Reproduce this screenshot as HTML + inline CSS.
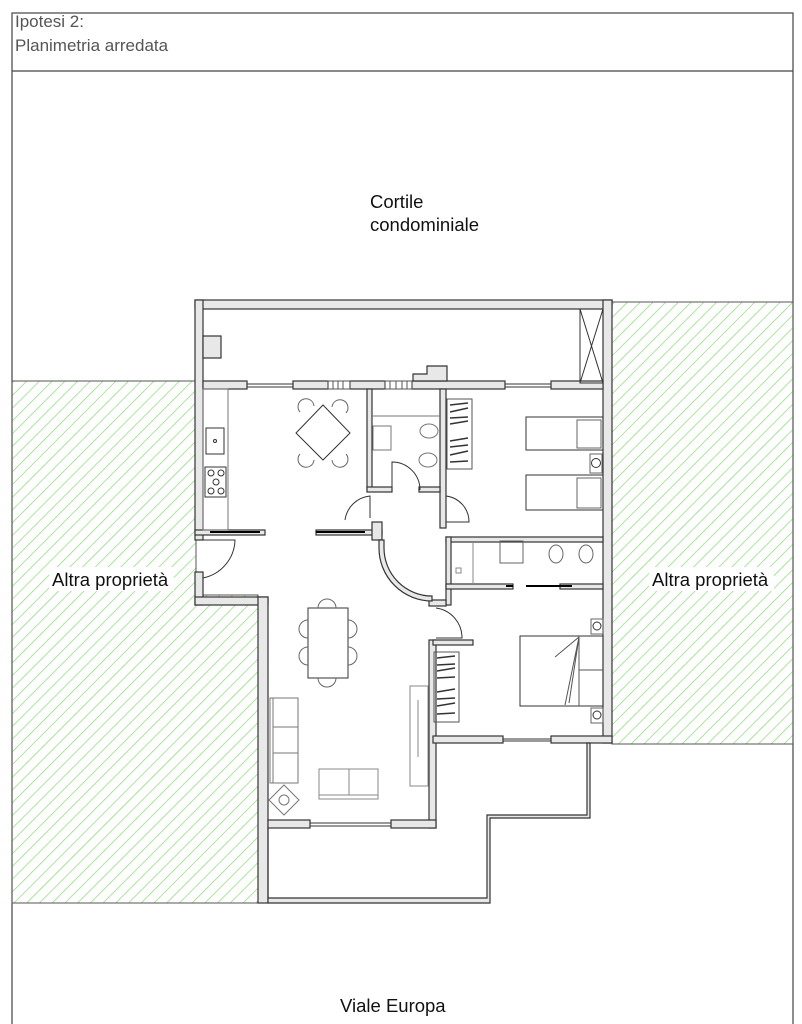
<!DOCTYPE html>
<html><head><meta charset="utf-8"><style>
html,body{margin:0;padding:0;background:#fff;width:802px;height:1024px;overflow:hidden}
svg{display:block}
text{font-family:"Liberation Sans",sans-serif}
</style></head><body>
<svg width="802" height="1024" viewBox="0 0 802 1024" xmlns="http://www.w3.org/2000/svg">
<defs>
<pattern id="h" patternUnits="userSpaceOnUse" width="9" height="9" patternTransform="rotate(45)">
<line x1="0" y1="0" x2="0" y2="9" stroke="#7ed86a" stroke-width="1.3"/>
</pattern>
</defs>
<rect x="12" y="13" width="781" height="1020" fill="none" stroke="#444" stroke-width="1.2"/>
<line x1="12" y1="71" x2="793" y2="71" stroke="#444" stroke-width="1.2"/>
<text x="15" y="27" font-size="17" fill="#555">Ipotesi 2:</text>
<text x="15" y="51" font-size="17" fill="#555">Planimetria arredata</text>
<text x="370" y="208" font-size="18.5" fill="#111">Cortile</text>
<text x="370" y="231" font-size="18.5" fill="#111">condominiale</text>
<text x="340" y="1012" font-size="18.5" fill="#111">Viale Europa</text>

<path d="M12 381 H196 V595 H258 V903 H12 Z" fill="url(#h)" stroke="#555" stroke-width="1"/>
<rect x="612" y="302" width="181" height="442" fill="url(#h)" stroke="#555" stroke-width="1"/>
<rect x="49" y="567" width="125" height="24" fill="#fff"/>
<text x="52" y="586" font-size="18.5" fill="#111">Altra proprietà</text>
<rect x="649" y="567" width="125" height="24" fill="#fff"/>
<text x="652" y="586" font-size="18.5" fill="#111">Altra proprietà</text>

<g fill="#e8e8e8" stroke="#333" stroke-width="1.2">
<rect x="195" y="300" width="417" height="9"/>
<rect x="195" y="300" width="8" height="240"/>
<rect x="603" y="300" width="9" height="443"/>
<rect x="203" y="336" width="18" height="22"/>
<rect x="203" y="381" width="44" height="8"/>
<rect x="293" y="381" width="35" height="8"/>
<rect x="350" y="381" width="35" height="8"/>
<rect x="412" y="381" width="93" height="8"/>
<rect x="551" y="381" width="52" height="8"/>
<path d="M413 381 V374 H427 V366 H447 V381 Z"/>
<rect x="367" y="389" width="5" height="101"/>
<rect x="440" y="389" width="6" height="139"/>
<rect x="367" y="487" width="25" height="5"/>
<rect x="419" y="487" width="21" height="5"/>
<rect x="195" y="530" width="70" height="5"/>
<rect x="316" y="530" width="66" height="5"/>
<rect x="372" y="522" width="10" height="18"/>
<rect x="195" y="572" width="8" height="33"/>
<rect x="195" y="597" width="73" height="8"/>
<rect x="258" y="597" width="10" height="306"/>
<rect x="446" y="537" width="157" height="5"/>
<rect x="446" y="537" width="5" height="68"/>
<rect x="446" y="584" width="67" height="5"/>
<rect x="560" y="584" width="43" height="5"/>
<rect x="429" y="600" width="17" height="6"/>
<rect x="429" y="640" width="7" height="188"/>
<rect x="433" y="640" width="40" height="5"/>
<rect x="433" y="736" width="70" height="7"/>
<rect x="551" y="736" width="61" height="7"/>
<rect x="268" y="820" width="42" height="8"/>
<rect x="391" y="820" width="45" height="8"/>
<path d="M268 828 V898 H487 V815 H587 V743 H590 V818 H490 V903 H268 Z"/>
<path d="M379 540 v8 a53 53 0 0 0 53 53 v-5 a48 48 0 0 1 -48 -48 v-8 Z"/>
</g>
<g fill="none" stroke="#333" stroke-width="1">
<rect x="580" y="309" width="23" height="74"/>
<line x1="580" y1="309" x2="603" y2="383"/><line x1="603" y1="309" x2="580" y2="383"/>
<line x1="247" y1="384" x2="293" y2="384"/><line x1="247" y1="387" x2="293" y2="387"/>
<line x1="505" y1="384" x2="551" y2="384"/><line x1="505" y1="387" x2="551" y2="387"/>
<line x1="310" y1="823" x2="391" y2="823"/><line x1="310" y1="826" x2="391" y2="826"/>
<line x1="503" y1="739" x2="551" y2="739"/><line x1="503" y1="741" x2="551" y2="741"/>
<path d="M328 381 h22 v8 h-22 z M333 381 v8 M338 381 v8 M343 381 v8 M385 381 h27 v8 h-27 z M390 381 v8 M396 381 v8 M402 381 v8 M407 381 v8" stroke="#555"/>
<rect x="203" y="389" width="25" height="141" stroke="#777"/>
<rect x="206" y="428" width="18" height="26"/><circle cx="215" cy="441" r="1.5"/>
<rect x="205" y="467" width="21" height="30"/>
<circle cx="211" cy="473" r="3"/><circle cx="221" cy="473" r="3"/><circle cx="216" cy="482" r="3"/><circle cx="211" cy="491" r="3"/><circle cx="221" cy="491" r="3"/>
<polygon points="323,405 350,433 323,460 296,433"/>
<path d="M300 412 a8 8 0 1 1 14 -6 M332 407 a8 8 0 1 1 14 6 M300 454 a8 8 0 1 0 14 6 M332 460 a8 8 0 1 0 14 -6" stroke="#666"/>
<line x1="372" y1="416" x2="440" y2="416" stroke="#777"/>
<rect x="373" y="426" width="18" height="24" stroke="#777"/>
<ellipse cx="429" cy="431" rx="9" ry="7" stroke="#777"/>
<ellipse cx="428" cy="460" rx="9" ry="7" stroke="#777"/>
<rect x="447" y="399" width="25" height="70" stroke="#555"/>
<path d="M450 405 l18 -2 M450 412 l18 -4 M450 418 l18 -1 M450 424 l18 -3 M450 441 l18 -3 M450 447 l18 -2 M450 455 l18 -4 M450 462 l18 -1" stroke="#333" stroke-width="1.5"/>
<rect x="526" y="417" width="77" height="33"/><rect x="577" y="420" width="24" height="28" stroke="#666"/>
<rect x="526" y="475" width="77" height="35"/><rect x="577" y="478" width="24" height="30" stroke="#666"/>
<rect x="590" y="454" width="12" height="19" stroke="#666"/><circle cx="596" cy="463" r="4.5"/>
<line x1="210" y1="532" x2="260" y2="532" stroke="#000" stroke-width="2"/>
<line x1="316" y1="532" x2="365" y2="532" stroke="#000" stroke-width="2"/>
<path d="M195 540 h40 a40 40 0 0 1 -32 38"/>
<path d="M345 520 a28 28 0 0 1 25 -24 v22"/>
<path d="M392 490 v-28 a28 28 0 0 1 28 28"/>
<path d="M446 496 a26 26 0 0 1 23 26 h-23"/>
<path d="M436 608 a30 30 0 0 1 26 30 h-26"/>
<line x1="451" y1="584" x2="506" y2="584"/>
<rect x="500" y="541" width="23" height="22" stroke="#666"/>
<ellipse cx="556" cy="554" rx="7" ry="9" stroke="#666"/>
<ellipse cx="586" cy="554" rx="7" ry="9" stroke="#666"/>
<line x1="473" y1="543" x2="473" y2="584" stroke="#888"/>
<rect x="456" y="568" width="5" height="5" stroke="#888"/>
<line x1="506" y1="586" x2="513" y2="586" stroke="#000" stroke-width="2"/>
<line x1="526" y1="586" x2="572" y2="586" stroke="#000" stroke-width="2"/>
<rect x="520" y="636" width="83" height="70"/>
<line x1="579" y1="636" x2="579" y2="706" stroke="#555"/><line x1="579" y1="670" x2="603" y2="670" stroke="#555"/>
<path d="M579 637 l-14 68 M579 637 l-24 20 M579 637 l-10 66" stroke="#555"/>
<rect x="591" y="619" width="12" height="15" stroke="#666"/><circle cx="597" cy="626" r="4"/>
<rect x="591" y="708" width="12" height="15" stroke="#666"/><circle cx="597" cy="715" r="4"/>
<rect x="434" y="652" width="25" height="70" stroke="#555"/>
<path d="M437 658 l18 -2 M437 665 l18 -1 M437 671 l18 -3 M437 678 l18 -1 M437 692 l18 -3 M437 699 l18 -1 M437 706 l18 -3 M437 714 l18 -1" stroke="#333" stroke-width="1.5"/>
<rect x="308" y="608" width="40" height="70"/>
<path d="M318 608 a9 9 0 0 1 18 0 M318 678 a9 9 0 0 0 18 0 M308 620 a9 9 0 0 0 0 18 M308 647 a9 9 0 0 0 0 18 M348 620 a9 9 0 0 1 0 18 M348 647 a9 9 0 0 1 0 18" stroke="#666"/>
<rect x="410" y="686" width="18" height="100" stroke="#888"/>
<line x1="418" y1="700" x2="418" y2="757" stroke="#888"/>
<rect x="270" y="698" width="28" height="85" stroke="#777"/>
<line x1="273" y1="698" x2="273" y2="783" stroke="#777"/>
<line x1="273" y1="727" x2="298" y2="727" stroke="#777"/><line x1="273" y1="753" x2="298" y2="753" stroke="#777"/>
<rect x="319" y="769" width="59" height="30" stroke="#888"/>
<line x1="319" y1="795" x2="378" y2="795" stroke="#888"/><line x1="349" y1="769" x2="349" y2="795" stroke="#888"/>
<polygon points="284,785 299,800 284,815 269,800" stroke="#777"/><circle cx="284" cy="800" r="5" stroke="#777"/>
</g>
</svg>
</body></html>
